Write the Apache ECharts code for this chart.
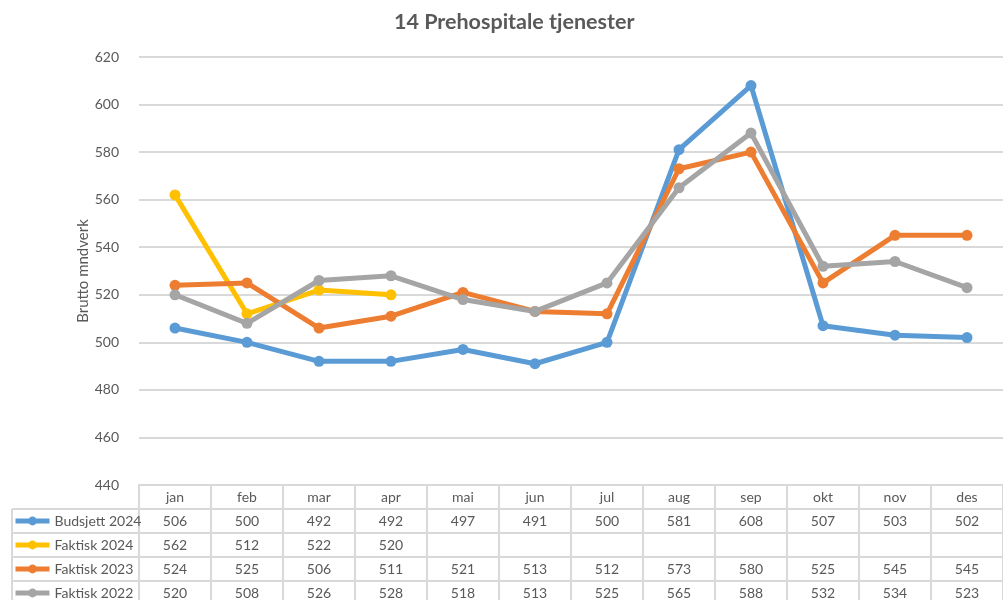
<!DOCTYPE html>
<html lang="no">
<head>
  <meta charset="UTF-8">
  <title>14 Prehospitale tjenester</title>
  <script src="https://cdn.jsdelivr.net/npm/echarts@6/dist/echarts.min.js"></script>
  <style>
    html, body { margin: 0; padding: 0; background: #fff; }
    #chart { width: 1003px; height: 600px; }
  </style>
</head>
<body>
  <div id="chart"></div>
  <script>
    // chart data
    const months = ['jan', 'feb', 'mar', 'apr', 'mai', 'jun', 'jul', 'aug', 'sep', 'okt', 'nov', 'des'];
    const seriesNames = ['Budsjett 2024', 'Faktisk 2024', 'Faktisk 2023', 'Faktisk 2022'];
    const budsjett2024 = [506, 500, 492, 492, 497, 491, 500, 581, 608, 507, 503, 502];
    const faktisk2024 = [562, 512, 522, 520, null, null, null, null, null, null, null, null];
    const faktisk2023 = [524, 525, 506, 511, 521, 513, 512, 573, 580, 525, 545, 545];
    const faktisk2022 = [520, 508, 526, 528, 518, 513, 525, 565, 588, 532, 534, 523];
    const yTicks = [440, 460, 480, 500, 520, 540, 560, 580, 600, 620];

    const allValues = [budsjett2024, faktisk2024, faktisk2023, faktisk2022];
    const colors = ['#5b9bd5', '#ffc000', '#ed7d31', '#a5a5a5'];

    const font = 'Lato';
    const textColor = '#595959';
    const lineColor = '#d9d9d9';

    // layout of the plot + data table
    const gridLeft = 139;
    const gridTop = 57;
    const tableTop = 485;
    const rowH = 24;
    const labelLeft = 12;

    let myChart = echarts.init(document.getElementById('chart'));

    // one category axis per table row: header + one row per series
    let xAxes = [];
    for (let r = 0; r <= seriesNames.length; r++) {
      xAxes.push({
        type: 'category',
        data: months,
        position: 'bottom',
        offset: r * rowH,
        boundaryGap: true,
        axisLine: { show: true, lineStyle: { color: lineColor, width: 2 } },
        axisTick: { show: true, interval: 0, length: rowH, lineStyle: { color: lineColor, width: 2 } },
        splitLine: { show: false },
        axisLabel: {
          interval: 0,
          margin: 5,
          color: textColor,
          fontFamily: font,
          fontSize: 14,
          formatter: function (value, idx) {
            if (r === 0) return value;
            let v = allValues[r - 1][idx];
            return v == null ? '' : String(v);
          }
        }
      });
    }

    // borders of the left label column
    let borders = [];
    for (let r = 1; r <= seriesNames.length; r++) {
      let y = tableTop + r * rowH;
      borders.push({
        type: 'line',
        shape: { x1: labelLeft, y1: y, x2: gridLeft, y2: y },
        style: { stroke: lineColor, lineWidth: 2 }
      });
    }
    borders.push({
      type: 'line',
      shape: { x1: labelLeft, y1: tableTop + rowH, x2: labelLeft, y2: 600 },
      style: { stroke: lineColor, lineWidth: 2 }
    });

    let option = {
      animation: false,
      backgroundColor: '#fff',
      title: {
        text: '14 Prehospitale tjenester',
        left: 389,
        top: 6,
        textStyle: { color: textColor, fontFamily: font, fontSize: 21.5, fontWeight: 'bold' }
      },
      legend: {
        data: seriesNames,
        orient: 'vertical',
        left: labelLeft + 1,
        top: tableTop + rowH + 5,
        padding: 0,
        itemWidth: 34,
        itemHeight: 11,
        itemGap: 10,
        selectedMode: false,
        lineStyle: { width: 5 },
        textStyle: { color: textColor, fontFamily: font, fontSize: 14 }
      },
      grid: {
        left: gridLeft,
        right: -2,
        top: gridTop,
        bottom: 600 - tableTop
      },
      xAxis: xAxes,
      yAxis: {
        type: 'value',
        min: yTicks[0],
        max: yTicks[yTicks.length - 1],
        interval: 20,
        name: 'Brutto mndverk',
        nameLocation: 'middle',
        nameGap: 48,
        nameMoveOverlap: false,
        nameTextStyle: { color: textColor, fontFamily: font, fontSize: 15 },
        axisLine: { show: false },
        axisTick: { show: false },
        axisLabel: { color: textColor, fontFamily: font, fontSize: 14, margin: 20 },
        splitLine: { lineStyle: { color: lineColor, width: 2 } }
      },
      graphic: borders,
      series: seriesNames.map(function (name, i) {
        return {
          name: name,
          type: 'line',
          xAxisIndex: 0,
          data: allValues[i],
          color: colors[i],
          symbol: 'circle',
          symbolSize: 11,
          lineStyle: { width: 5, color: colors[i] },
          itemStyle: { color: colors[i] }
        };
      })
    };

    myChart.setOption(option);
  </script>
</body>
</html>
